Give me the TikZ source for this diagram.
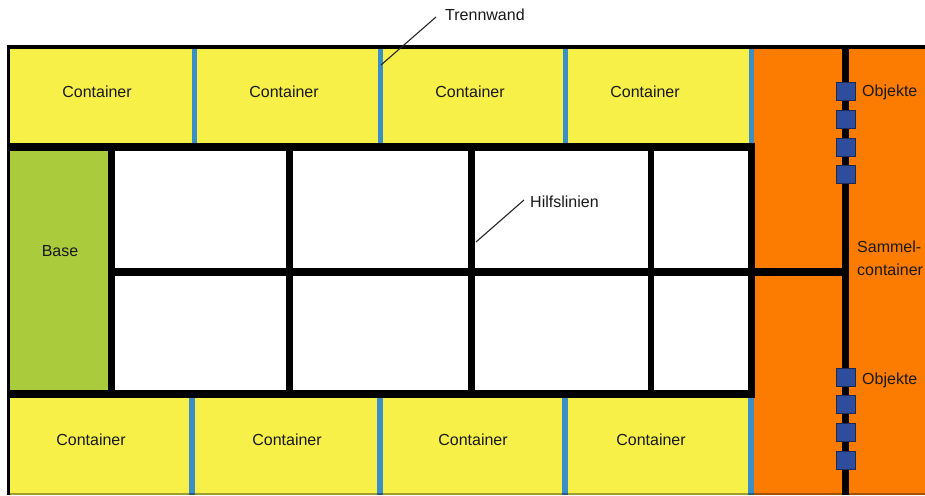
\documentclass[tikz,border=0pt]{standalone}
\usepackage{fontspec}
\setmainfont{Liberation Sans}
\definecolor{cyel}{HTML}{F7F048}
\definecolor{cgreen}{HTML}{AACC3C}
\definecolor{corange}{HTML}{FB7C00}
\definecolor{cblue}{HTML}{3B8FC8}
\definecolor{cnavy}{HTML}{2E4D9C}
\definecolor{cnavyd}{HTML}{1C2A50}
\begin{document}
\begin{tikzpicture}[x=1pt,y=-1pt,
  lbl/.style={font=\fontsize{16}{23}\selectfont, inner sep=0pt, text=black!90},
  obj/.style={fill=cnavy, draw=cnavyd, line width=0.8pt, minimum width=19pt, minimum height=18pt, inner sep=0pt},
  leader/.style={draw=black!85, line width=1.1pt}]
\useasboundingbox (0,0) rectangle (925,495);
\fill[white] (0,0) rectangle (925,495);
% top container row
\fill[cyel] (10,49) rectangle (749,143);
\foreach \a/\b in {192/197,378/383,563/568,749/754}
  \fill[cblue] (\a,49) rectangle (\b,143);
% bottom container row
\fill[cyel] (10,398) rectangle (749,495);
\foreach \a/\b in {189/195,377/383,562/568,748/754}
  \fill[cblue] (\a,398) rectangle (\b,495);
% Sammelcontainer
\fill[corange] (754,49) rectangle (925,495);
% Base
\fill[cgreen] (10,151) rectangle (108,390);
% black frame and auxiliary lines
\fill[black] (7,45.5) rectangle (925,49);
\fill[black] (7,45.5) rectangle (10,495);
\fill[black] (7,143) rectangle (755,151);
\fill[black] (7,390) rectangle (755,398);
\foreach \a/\b in {108/115,286/293,468/475,648/654,748/755}
  \fill[black] (\a,143) rectangle (\b,398);
\fill[black] (108,268) rectangle (849,276);
\fill[black] (842,49) rectangle (849,495);
\fill[black,opacity=0.35] (7,493) rectangle (925,495);
% objects
\foreach \y [count=\i] in {91,119,147,174}
  \node[obj] (ot\i) at (845.5,\y) {};
\foreach \y [count=\i] in {377,404,432,460}
  \node[obj] (ob\i) at (845.5,\y) {};
% labels
\node[lbl,anchor=base] (ct1) at (97,97) {Container};
\node[lbl,anchor=base] (ct2) at (284,97) {Container};
\node[lbl,anchor=base] (ct3) at (470,97) {Container};
\node[lbl,anchor=base] (ct4) at (645,97) {Container};
\node[lbl,anchor=base] (cb1) at (91,445) {Container};
\node[lbl,anchor=base] (cb2) at (287,445) {Container};
\node[lbl,anchor=base] (cb3) at (473,445) {Container};
\node[lbl,anchor=base] (cb4) at (651,445) {Container};
\node[lbl,anchor=base] (base) at (60,256) {Base};
\node[lbl,anchor=base west] (objt) at (862,96) {Objekte};
\node[lbl,anchor=base west] (objb) at (862,384) {Objekte};
\node[lbl,anchor=base west,align=left] (sammel) at (857,275) {Sammel-\\container};
\node[lbl,anchor=base west] (tw) at (445,21) {Trennwand};
\node[lbl,anchor=base west] (hl) at (530,207) {Hilfslinien};
% leaders
\coordinate (twend) at (381,65);
\coordinate (twtip) at (436,17);
\coordinate (hlend) at (476,242);
\coordinate (hltip) at (524,200);
\draw[leader] (twend) -- (twtip);
\draw[leader] (hlend) -- (hltip);
\end{tikzpicture}
\end{document}
